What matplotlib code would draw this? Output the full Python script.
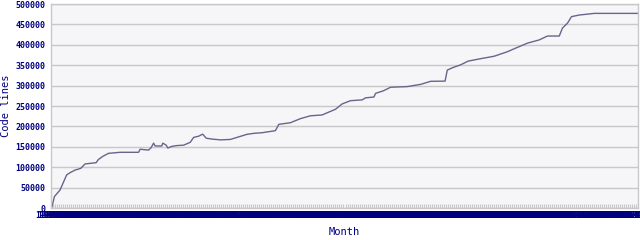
import matplotlib
matplotlib.use("Agg")
import matplotlib.pyplot as plt
import numpy as np

# month index (0 = first month tick) and code line counts
months = [0.5, 1.7, 4.5, 7.8, 9.5, 12, 14.8, 17, 22.5, 23.7, 26, 28.7, 34.5, 43.7,
          44.5, 48.7, 50, 51.2, 52, 55.3, 55.8, 57.5, 58.3, 60.3, 62.8, 66.2, 69.5,
          71.2, 73.7, 75.7, 77.5, 80.3, 84.5, 89.5, 92.8, 97.8, 101.2, 105.3, 112,
          113.7, 119.5, 124.5, 129.5, 135.3, 142, 145.3, 149.5, 155.3, 157, 161.2,
          162, 165.8, 169.5, 177.8, 184.5, 189.5, 196.7, 197.8, 200.5, 204.5, 208.2,
          214.5, 221.2, 227.8, 232, 237.8, 243.7, 247.8, 253.7, 255.3, 257.8, 259.8,
          263.7, 271.2, 292.8]
code_lines = [3000, 28000, 44000, 81000, 86500, 93000, 97000, 108000, 111000, 119000,
              127000, 134000, 136500, 136500, 144000, 142000, 148000, 159000, 152000,
              152000, 159000, 154000, 147000, 151000, 153000, 154000, 161000, 173000,
              176000, 181000, 171000, 169000, 167000, 168000, 173000, 180500, 183000,
              184500, 189500, 205000, 209000, 219000, 226000, 228000, 242000, 255000,
              263000, 265000, 270000, 272000, 281000, 287000, 296000, 297500, 303000,
              310500, 311000, 338000, 344000, 351000, 360000, 366000, 372000, 383000,
              392000, 404000, 412000, 421500, 421500, 441000, 453000, 469000, 473000,
              477000, 477000]

start_year, start_month = 1999, 10
n_months = 294
month_labels = []
for i in range(n_months):
    y = start_year + (start_month - 1 + i) // 12
    m = (start_month - 1 + i) % 12 + 1
    month_labels.append(f"{y}-{m}")

y_ticks = list(range(0, 500001, 50000))

navy = "#000080"
fig = plt.figure(figsize=(6.4, 2.4), dpi=100)
ax = fig.add_axes([51/640, 1 - 208/240, 587/640, 204/240])
ax.set_facecolor("#F6F5F8")
ax.plot(months, code_lines, color="#67668A", linewidth=1.0)
ax.set_xlim(0, n_months - 1)
ax.set_ylim(0, 500000)
ax.set_yticks(y_ticks)
ax.set_yticklabels([str(v) for v in y_ticks], fontfamily="DejaVu Sans Mono",
                   fontweight="bold", fontsize=6, color=navy)
ax.set_xticks(range(n_months))
ax.set_xticklabels(month_labels, fontfamily="DejaVu Sans Mono", fontweight="bold",
                   fontsize=5.5, color=navy)
ax.grid(axis="y", color="#C8C8C8", linewidth=1.0)
ax.set_axisbelow(True)
ax.tick_params(axis="x", direction="in", length=3, color="#C8C8C8", pad=2)
ax.tick_params(axis="y", length=0, pad=4)
for s in ax.spines.values():
    s.set_color("#C8C8C8")
    s.set_linewidth(1.0)
ax.set_xlabel("Month", fontfamily="DejaVu Sans Mono", fontsize=7.5, color=navy, labelpad=5)
ax.set_ylabel("Code lines", fontfamily="DejaVu Sans Mono", fontsize=7.5, color=navy, labelpad=3)
fig.savefig("out.png", dpi=100, facecolor="white")
